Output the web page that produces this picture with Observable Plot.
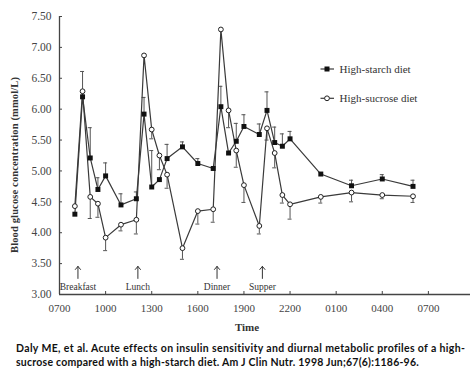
<!DOCTYPE html>
<html>
<head>
<meta charset="utf-8">
<script src="https://cdn.jsdelivr.net/npm/d3@7"></script>
<script src="https://cdn.jsdelivr.net/npm/@observablehq/plot@0.6"></script>
<style>
  html, body { margin: 0; padding: 0; background: #fff; }
  #chart svg { display: block; }
  #caption { font-family: Lato, "Open Sans", sans-serif; font-weight: bold; font-size: 10.5px; line-height: 14px; color: #111; padding-left: 16px; margin-top: 3px; white-space: nowrap; }
  #caption span { display: inline-block; }
</style>
</head>
<body>
<div id="chart"></div>
<div id="caption"><span>Daly ME, et al. Acute effects on insulin sensitivity and diurnal metabolic profiles of a high-</span><br><span>sucrose compared with a high-starch diet. Am J Clin Nutr. 1998 Jun;67(6):1186-96.</span></div>
<script>
// Time in hours (0700 = 7, next-day hours continue past 24)
const times   = [8, 8.5, 9, 9.5, 10, 11, 12, 12.5, 13, 13.5, 14, 15, 16, 17, 17.5, 18, 18.5, 19, 20, 20.5, 21, 21.5, 22, 24, 26, 28, 30];
const starch  = [4.30, 6.20, 5.21, 4.70, 4.92, 4.45, 4.55, 5.92, 4.74, 4.86, 5.20, 5.39, 5.12, 5.04, 6.04, 5.29, 5.48, 5.72, 5.59, 5.98, 5.46, 5.40, 5.52, 4.95, 4.76, 4.87, 4.75];
const sucrose = [4.43, 6.29, 4.58, 4.47, 3.92, 4.13, 4.21, 6.87, 5.67, 5.25, 4.94, 3.75, 4.35, 4.38, 7.29, 5.98, 5.33, 4.77, 4.11, 5.69, 5.29, 4.61, 4.46, 4.58, 4.65, 4.61, 4.59];
// error bar end values (null = not visible)
const starchErr  = [null, null, 5.70, 4.89, 5.13, 4.63, 4.66, 6.19, 5.33, null, 5.43, 5.47, 5.20, null, 6.37, null, 5.77, 5.91, 5.76, 6.28, 5.71, 5.60, 5.64, null, 4.85, 4.94, 4.85];
const sucroseErr = [null, 6.61, 4.23, 4.25, 3.71, 4.03, 3.98, null, 5.52, 5.02, 4.72, 3.57, 4.14, 4.17, null, 5.70, 5.06, 4.49, 3.98, 5.50, 5.05, 4.48, 4.22, 4.48, 4.50, 4.55, 4.49];

const xTicks = [7, 10, 13, 16, 19, 22, 25, 28, 31];
const xTickLabels = ["0700", "1000", "1300", "1600", "1900", "2200", "0100", "0400", "0700"];
const yTicks = [3.0, 3.5, 4.0, 4.5, 5.0, 5.5, 6.0, 6.5, 7.0, 7.5];

const meals = ["Breakfast", "Lunch", "Dinner", "Supper"];
const mealTimes = [8.2, 12.1, 17.25, 20.2];

const seriesNames = ["High-starch diet", "High-sucrose diet"];
const yTitle = "Blood glucose concentration (mmol/L)";
const xTitle = "Time";

const starchData = times.map((t, i) => ({t, v: starch[i], e: starchErr[i]}));
const sucroseData = times.map((t, i) => ({t, v: sucrose[i], e: sucroseErr[i]}));
const errData = [...starchData, ...sucroseData].filter(d => d.e != null);
const mealData = meals.map((m, i) => ({m, t: mealTimes[i]}));

const serif = "'Liberation Serif', 'Times New Roman', serif";
const lineColor = "#3a3a3a";
const capHalf = 0.13;

const plot = Plot.plot({
  width: 474,
  height: 338,
  marginLeft: 59,
  marginRight: 4,
  marginTop: 16,
  marginBottom: 44,
  x: {domain: [7, 33.74]},
  y: {domain: [3, 7.5]},
  marks: [
    Plot.axisY({ticks: yTicks, tickFormat: d => d.toFixed(2), tickSize: -3, tickPadding: 11, fontSize: 11.5, fontFamily: serif, color: "#444", label: null}),
    Plot.axisX({ticks: xTicks, tickFormat: d => xTickLabels[xTicks.indexOf(d)], tickSize: -3, tickPadding: 13, fontSize: 11, fontFamily: serif, color: "#444", label: null}),
    Plot.ruleX([7], {stroke: "#444", strokeWidth: 1.3}),
    Plot.ruleY([3], {stroke: "#444", strokeWidth: 1.3}),
    // error bars
    Plot.ruleX(errData, {x: "t", y1: "v", y2: "e", stroke: "#555", strokeWidth: 1}),
    Plot.ruleY(errData, {y: "e", x1: d => d.t - capHalf, x2: d => d.t + capHalf, stroke: "#555", strokeWidth: 1}),
    // lines
    Plot.line(sucroseData, {x: "t", y: "v", stroke: lineColor, strokeWidth: 1.2}),
    Plot.line(starchData, {x: "t", y: "v", stroke: lineColor, strokeWidth: 1.2}),
    Plot.dot(sucroseData, {x: "t", y: "v", symbol: "circle", r: 2.4, fill: "white", stroke: "#222", strokeWidth: 1}),
    Plot.dot(starchData, {x: "t", y: "v", symbol: "square", r: 2.8, fill: "#111", stroke: "none"}),
    // meal arrows
    Plot.arrow(mealData, {x1: "t", x2: "t", y1: 3.26, y2: 3.455, stroke: "#333", strokeWidth: 1, headLength: 6, headAngle: 80}),
    Plot.text(mealData, {x: "t", y: 3.13, text: "m", fontSize: 9.5, fontFamily: serif, fill: "#333"}),
    Plot.text([xTitle], {frameAnchor: "bottom", dx: -18, dy: 36, fontSize: 11, fontWeight: "bold", fontFamily: serif, fill: "#333"})
  ]
});

const svg = d3.select(plot);

// y-axis title
svg.append("text")
  .attr("transform", "translate(18,165) rotate(-90)")
  .attr("text-anchor", "middle")
  .attr("font-family", serif)
  .attr("font-weight", "bold")
  .attr("font-size", 10.5)
  .attr("fill", "#333")
  .attr("textLength", 176)
  .attr("lengthAdjust", "spacing")
  .text(yTitle);

// legend
const lg = svg.append("g").attr("text-anchor", "start");
[0, 1].forEach(i => {
  const y = 69 + i * 29.3;
  lg.append("line").attr("x1", 320.5).attr("x2", 334).attr("y1", y).attr("y2", y).attr("stroke", lineColor).attr("stroke-width", 1.2);
  if (i === 0) {
    lg.append("rect").attr("x", 327 - 2.5).attr("y", y - 2.5).attr("width", 5).attr("height", 5).attr("fill", "#111");
  } else {
    lg.append("circle").attr("cx", 327).attr("cy", y).attr("r", 2.4).attr("fill", "white").attr("stroke", "#222");
  }
  lg.append("text").attr("x", 339.5).attr("y", y).attr("dy", "0.35em").attr("text-anchor", "start").attr("font-family", serif).attr("font-size", 11).attr("fill", "#333").text(seriesNames[i]);
});

document.getElementById("chart").appendChild(plot);

// fit caption lines to reference widths
const targets = [449, 403];
document.querySelectorAll("#caption span").forEach((s, i) => {
  const w = s.getBoundingClientRect().width;
  const n = s.textContent.length;
  s.style.letterSpacing = ((targets[i] - w) / n) + "px";
});
</script>
</body>
</html>
